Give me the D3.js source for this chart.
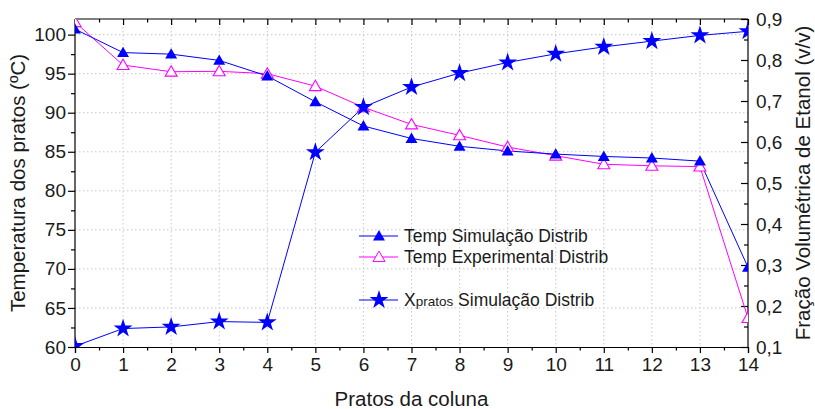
<!DOCTYPE html>
<html>
<head>
<meta charset="utf-8">
<script src="https://cdn.jsdelivr.net/npm/d3@7"></script>
<style>
  body { margin: 0; background: #fff; }
  svg { font-family: "Liberation Sans", Arial, sans-serif; }
  .grid line { stroke: #c8c8c8; stroke-dasharray: 1.5 2.5; stroke-width: 1; }
  .axis path, .axis line { stroke: #000; stroke-width: 1.2; }
  .axis text { font-size: 19px; fill: #1a1a1a; }
  .title { font-size: 20.5px; fill: #1a1a1a; }
  .legend text { font-size: 17.5px; fill: #1a1a1a; }
</style>
</head>
<body>
<script>
  // pratos (stages)
  let pratos = [0, 1, 2, 3, 4, 5, 6, 7, 8, 9, 10, 11, 12, 13, 14];
  // temperatura simulada (ºC)
  let tempSim = [100.7, 97.7, 97.5, 96.7, 94.7, 91.4, 88.3, 86.7, 85.7, 85.1, 84.7, 84.4, 84.2, 83.8, 70.2];
  // temperatura experimental (ºC)
  let tempExp = [101.6, 96.1, 95.25, 95.3, 95.0, 93.4, 90.7, 88.5, 87.1, 85.6, 84.5, 83.4, 83.2, 83.1, 63.7];
  // fração volumétrica de etanol
  let xPratos = [0.102, 0.145, 0.149, 0.162, 0.160, 0.575, 0.685, 0.734, 0.768, 0.794, 0.815, 0.832, 0.846, 0.860, 0.870];

  let leftTicks = [60, 65, 70, 75, 80, 85, 90, 95, 100];
  let rightTicks = [0.1, 0.2, 0.3, 0.4, 0.5, 0.6, 0.7, 0.8, 0.9];

  let blue = '#0000ff';
  let magenta = '#ff00ff';

  let margin = { top: 19, right: 67, bottom: 62, left: 75 };
  let W = 815, H = 409;
  let width = W - margin.left - margin.right;
  let height = H - margin.top - margin.bottom;

  let svg = d3.select('body').append('svg')
    .attr('width', W)
    .attr('height', H);

  let g = svg.append('g')
    .attr('transform', 'translate(' + margin.left + ',' + margin.top + ')');

  let x = d3.scaleLinear().domain([0, 14]).range([0, width]);
  let yL = d3.scaleLinear().domain([60, 102]).range([height, 0]);
  let yR = d3.scaleLinear().domain([0.1, 0.9]).range([height, 0]);

  // grade
  let grid = g.append('g').attr('class', 'grid');
  grid.selectAll('.gx').data(pratos.slice(1, -1)).enter().append('line')
    .attr('x1', d => x(d)).attr('x2', d => x(d))
    .attr('y1', 0).attr('y2', height);
  grid.selectAll('.gy').data(leftTicks.slice(1)).enter().append('line')
    .attr('x1', 0).attr('x2', width)
    .attr('y1', d => yL(d)).attr('y2', d => yL(d));

  // minor ticks
  let xMinor = d3.range(0.5, 14, 1);
  let yLMinor = d3.range(62.5, 102, 5);
  let yRMinor = d3.range(0.15, 0.9, 0.1);

  let fmtR = d => d3.format('.1f')(d).replace('.', ',');

  let axBottom = g.append('g').attr('class', 'axis')
    .attr('transform', 'translate(0,' + height + ')')
    .call(d3.axisBottom(x).tickValues(pratos).tickSize(6).tickPadding(5).tickFormat(d3.format('d')));
  axBottom.append('g').call(d3.axisBottom(x).tickValues(xMinor).tickSize(3.5).tickFormat(''))
    .select('.domain').remove();

  let axTop = g.append('g').attr('class', 'axis')
    .call(d3.axisBottom(x).tickValues(pratos).tickSize(6).tickFormat(''));
  axTop.append('g').call(d3.axisBottom(x).tickValues(xMinor).tickSize(3.5).tickFormat(''))
    .select('.domain').remove();
  axTop.select('.domain').attr('d', 'M0,0H' + width);

  let axLeft = g.append('g').attr('class', 'axis')
    .call(d3.axisLeft(yL).tickValues(leftTicks).tickSize(7).tickPadding(2));
  axLeft.append('g').call(d3.axisLeft(yL).tickValues(yLMinor).tickSize(4).tickFormat(''))
    .select('.domain').remove();
  axLeft.select('.domain').attr('d', 'M0,' + height + 'V0');

  let axRight = g.append('g').attr('class', 'axis')
    .attr('transform', 'translate(' + width + ',0)')
    .call(d3.axisLeft(yR).tickValues(rightTicks).tickSize(7).tickFormat(''));
  axRight.append('g').call(d3.axisLeft(yR).tickValues(yRMinor).tickSize(4).tickFormat(''))
    .select('.domain').remove();
  axRight.select('.domain').attr('d', 'M0,' + height + 'V0');
  axRight.selectAll('.rlab').data(rightTicks).enter().append('text')
    .attr('x', 8).attr('y', d => yR(d)).attr('dy', '0.36em')
    .attr('text-anchor', 'start')
    .attr('fill', '#1a1a1a')
    .text(fmtR);

  // clip
  svg.append('defs').append('clipPath').attr('id', 'clip')
    .append('rect').attr('width', width).attr('height', height);
  let plot = g.append('g').attr('clip-path', 'url(#clip)');

  let star = d3.symbol().type(d3.symbolStar).size(110);
  let tri = d3.symbol().type(d3.symbolTriangle).size(62);

  let lineL = d3.line().x((d, i) => x(pratos[i])).y(d => yL(d));
  let lineR = d3.line().x((d, i) => x(pratos[i])).y(d => yR(d));

  plot.append('path').datum(xPratos).attr('d', lineR)
    .attr('fill', 'none').attr('stroke', blue).attr('stroke-width', 1);
  plot.append('path').datum(tempExp).attr('d', lineL)
    .attr('fill', 'none').attr('stroke', magenta).attr('stroke-width', 1);
  plot.append('path').datum(tempSim).attr('d', lineL)
    .attr('fill', 'none').attr('stroke', blue).attr('stroke-width', 1);

  plot.selectAll('.exp').data(tempExp).enter().append('path')
    .attr('d', tri)
    .attr('transform', (d, i) => 'translate(' + x(pratos[i]) + ',' + (yL(d) + 1) + ')')
    .attr('fill', '#fff').attr('stroke', magenta).attr('stroke-width', 1.1);
  plot.selectAll('.sim').data(tempSim).enter().append('path')
    .attr('d', tri)
    .attr('transform', (d, i) => 'translate(' + x(pratos[i]) + ',' + (yL(d) + 1) + ')')
    .attr('fill', blue);
  plot.selectAll('.xp').data(xPratos).enter().append('path')
    .attr('d', star)
    .attr('transform', (d, i) => 'translate(' + x(pratos[i]) + ',' + yR(d) + ')')
    .attr('fill', blue);

  // titulos
  svg.append('text').attr('class', 'title')
    .attr('x', margin.left + width / 2).attr('y', 406)
    .attr('text-anchor', 'middle')
    .text('Pratos da coluna');
  svg.append('text').attr('class', 'title')
    .attr('transform', 'translate(25,' + (margin.top + height / 2) + ') rotate(-90)')
    .attr('text-anchor', 'middle')
    .text('Temperatura dos pratos (ºC)');
  svg.append('text').attr('class', 'title')
    .attr('transform', 'translate(810,' + (margin.top + height / 2) + ') rotate(-90)')
    .attr('text-anchor', 'middle')
    .text('Fração Volumétrica de Etanol (v/v)');

  // legenda
  let legend = svg.append('g').attr('class', 'legend');
  let items = [
    { y: 236, color: blue, sym: tri, fill: blue, label: 'Temp Simulação Distrib' },
    { y: 257, color: magenta, sym: tri, fill: '#fff', label: 'Temp Experimental Distrib' },
    { y: 300, color: blue, sym: star, fill: blue, label: null }
  ];
  items.forEach(function(it) {
    legend.append('line')
      .attr('x1', 359).attr('x2', 398).attr('y1', it.y).attr('y2', it.y)
      .attr('stroke', it.color).attr('stroke-width', 1);
    legend.append('path').attr('d', it.sym)
      .attr('transform', 'translate(379,' + (it.y + (it.sym === tri ? 1 : 0)) + ')')
      .attr('fill', it.fill).attr('stroke', it.fill === '#fff' ? it.color : 'none');
    let t = legend.append('text').attr('x', 404).attr('y', it.y).attr('dy', '0.36em');
    if (it.label) {
      t.text(it.label);
    } else {
      t.append('tspan').text('X');
      t.append('tspan').style('font-size', '13.5px').text('pratos');
      t.append('tspan').text(' Simulação Distrib');
    }
  });
</script>
</body>
</html>
